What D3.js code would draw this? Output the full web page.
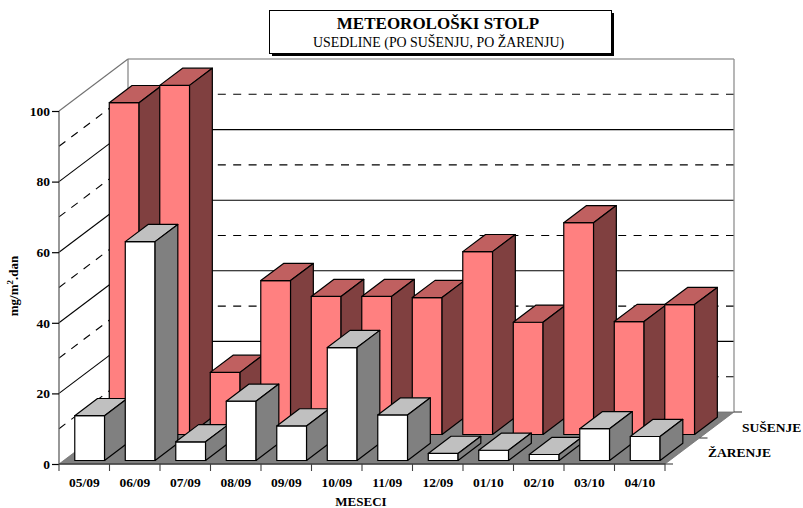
<!DOCTYPE html>
<html><head><meta charset="utf-8">
<script src="https://cdn.jsdelivr.net/npm/d3@7"></script>
<style>html,body{margin:0;background:#fff}svg{display:block}text{font-family:"Liberation Serif",serif;fill:#000}</style>
</head><body><svg id="c" width="803" height="508"></svg>
<script>
const months = ["05/09","06/09","07/09","08/09","09/09","10/09","11/09","12/09","01/10","02/10","03/10","04/10"];
const susenje = [94,98.9,17.6,43.6,39.1,39.1,38.8,51.8,31.8,60,32,36.8];
const zarenje = [12.7,62,5.3,16.8,9.8,32,12.9,2,2.9,1.7,9,6.8];
const seriesNames = ["ŽARENJE","SUŠENJE"];
const yTicks = [0,20,40,60,80,100];
const yGrid = [10,20,30,40,50,60,70,80,90,100];
const titleText = "METEOROLOŠKI STOLP";
const subtitleText = "USEDLINE (PO SUŠENJU, PO ŽARENJU)";

const svg = d3.select("#c");
const x = d3.scaleBand().domain(months).range([59,665]);
const y = d3.scaleLinear().domain([0,100]).range([464,111]);
const depth = d3.scaleBand().domain(seriesNames).range([0,1]);
const DX = 69, DY = -52;
const P = (xp, v, d) => [xp + DX*d, y(v) + DY*d];
const line = d3.line();
const poly = pts => line(pts) + "Z";
const xMax = x.range()[1];

// walls
const gWall = svg.append("g").attr("fill","none");
yGrid.forEach(v => {
  const major = v % 20 === 0;
  const stroke = v===100 ? "#707070" : "#000";
  gWall.append("path").attr("d", line([P(59,v,0),P(59,v,1)]))
    .attr("stroke", stroke).attr("stroke-width",1.1)
    .attr("stroke-dasharray", major ? null : "8,7.4");
  gWall.append("path").attr("d", line([P(xMax,v,1),P(59,v,1)]))
    .attr("stroke", stroke).attr("stroke-width",1.1)
    .attr("stroke-dasharray", major ? null : "8,7.4");
});
gWall.append("path").attr("d", line([P(xMax,100,1),P(xMax,0,1)])).attr("stroke","#909090").attr("stroke-width",1.3);
gWall.append("path").attr("d", line([P(59,100,1),P(59,0,1)])).attr("stroke","#808080").attr("stroke-width",1.2);

// floor
svg.append("path").attr("d",poly([P(59,0,0),P(xMax,0,0),P(xMax,0,1),P(59,0,1)])).attr("fill","#808080").attr("stroke","#707070").attr("stroke-width",0.8);

// axes
svg.append("path").attr("d",line([P(59,100,0),P(59,0,0)])).attr("stroke","#606060").attr("stroke-width",1.3).attr("fill","none");
svg.append("path").attr("d",line([P(59,0,0),P(xMax,0,0)])).attr("stroke","#404040").attr("stroke-width",1.3).attr("fill","none");

const axY = svg.append("g").attr("transform","translate(59,0)").call(d3.axisLeft(y).tickValues(yTicks).tickSize(7).tickPadding(2));
axY.select(".domain").remove();
axY.selectAll("line").attr("stroke","#000").attr("stroke-width",1.2);
axY.selectAll("text").style("font-family",'"Liberation Serif",serif').style("font-size","13.5px").style("font-weight","bold").attr("fill","#000");

const axX = svg.append("g").attr("transform","translate(0,464)").call(d3.axisBottom(x).tickSize(0).tickPadding(13));
axX.select(".domain").remove();
axX.selectAll("text").style("font-family",'"Liberation Serif",serif').style("font-size","13.5px").style("font-weight","bold").attr("fill","#000");
axX.selectAll("line").remove();
svg.append("g").selectAll("line").data([...months.map(m=>x(m)),xMax]).join("line")
  .attr("x1",d=>d).attr("x2",d=>d).attr("y1",464).attr("y2",471).attr("stroke","#404040").attr("stroke-width",1.1);

// depth axis ticks
svg.append("g").selectAll("line").data([0,0.5,1]).join("line")
  .attr("x1",d=>P(xMax,0,d)[0]).attr("y1",d=>P(xMax,0,d)[1])
  .attr("x2",d=>P(xMax,0,d)[0]+8).attr("y2",d=>P(xMax,0,d)[1])
  .attr("stroke","#404040").attr("stroke-width",1.1);

// bars
const barInset = 0.22, depthInset = 0.135;
function bars(name, values, cols){
  const g = svg.append("g");
  const d0 = depth(name) + depth.bandwidth()*depthInset;
  const d1 = d0 + depth.bandwidth()*0.66;
  months.forEach((m,i) => {
    const xa = x(m) + x.bandwidth()*barInset, xb = xa + x.bandwidth()*0.59, v = values[i];
    const face = (pts,fill) => g.append("path").attr("d",poly(pts)).attr("fill",fill).attr("stroke","#000").attr("stroke-width",1.2).attr("stroke-linejoin","round");
    face([P(xa,0,d0),P(xb,0,d0),P(xb,v,d0),P(xa,v,d0)],cols[0]);
    face([P(xa,v,d0),P(xb,v,d0),P(xb,v,d1),P(xa,v,d1)],cols[1]);
    face([P(xb,0,d0),P(xb,0,d1),P(xb,v,d1),P(xb,v,d0)],cols[2]);
  });
}
bars("SUŠENJE", susenje, ["#FF8080","#C06060","#804040"]);
bars("ŽARENJE", zarenje, ["#FFFFFF","#C0C0C0","#808080"]);

// series labels
const lab = (t,px,py) => svg.append("text").attr("x",px).attr("y",py).attr("font-size",13.5).attr("font-weight","bold").text(t);
lab("SUŠENJE",742,432);
lab("ŽARENJE",708,457);
svg.append("text").attr("x",361).attr("y",506).attr("text-anchor","middle").attr("font-size",13).attr("font-weight","bold").text("MESECI");

// y label
const yl = svg.append("text").attr("transform","translate(18,286) rotate(-90)").attr("text-anchor","middle").attr("font-size",13).attr("font-weight","bold");
yl.append("tspan").text("mg/m");
yl.append("tspan").attr("dy",-5).attr("font-size",9).text("2");
yl.append("tspan").attr("dy",5).text(".dan");

// title box
svg.append("rect").attr("x",272).attr("y",13).attr("width",342).attr("height",43).attr("fill","#000");
svg.append("rect").attr("x",269.5).attr("y",10.5).attr("width",342).attr("height",43).attr("fill","#fff").attr("stroke","#000").attr("stroke-width",1);
svg.append("text").attr("x",438).attr("y",28.5).attr("text-anchor","middle").attr("font-size",17).attr("font-weight","bold").text(titleText);
svg.append("text").attr("x",438.5).attr("y",46.5).attr("text-anchor","middle").attr("font-size",13.9).text(subtitleText);
</script></body></html>
